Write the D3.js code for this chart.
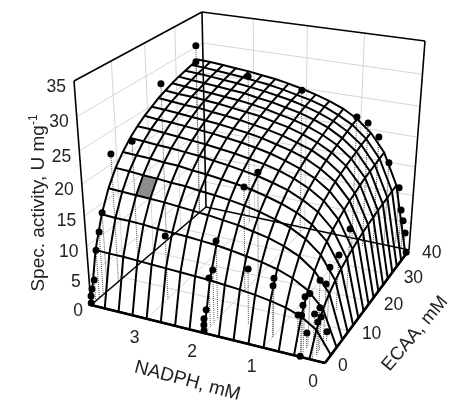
<!DOCTYPE html><html><head><meta charset="utf-8"><script src="https://cdn.jsdelivr.net/npm/d3@7"></script></head><body style="margin:0;background:#fff"><svg id="s" width="452" height="405" style="display:block;filter:blur(.35px)"></svg><script>
const nadphData=[3,2,1,.8,.6,.4,.3,.2,.15,.1,.02,4,4,4,4,4,4,4,4,4,4,4,4,2,2,2,2,2,2,2,2,2,3,1.5,1,1,.6,.4,.4,.4,.4,.4,.4,.4,.4,.4,.4,.2,.2,.2,.2,.2,.2];
const ecaaData=[37.7,37.9,37.8,37.8,37.8,37.8,41.4,40.1,40.1,40.2,39,.1,.2,.6,1.4,2.5,3.7,4.9,8.4,14.8,24.7,37.3,37.4,4.7,3.4,2.1,.9,.1,0,0,14.6,19.8,6.9,5.3,3.6,3.3,3.6,0,2.4,0,.4,1.1,3,7,11,14.8,19.4,5.6,1.5,2.7,0,2.1,4.2];
const activityData=[26.4,25.4,22.5,21.8,19.8,15.8,10.3,7,5.1,2.9,0,.3,1.5,2.5,3.7,8.3,10.8,13.5,21.6,21.4,27.5,27.6,30.2,13,8.9,8.2,3.5,2.4,1.4,.4,17.6,18,10.8,9.3,9.7,8.6,4.6,.1,2.7,6.9,8.3,9.3,8.9,9.1,9.3,9.6,11.9,1.7,5.5,5.7,7.6,7.5,10.3];
const meshNadph=[0,.25,.5,.75,1,1.25,1.5,1.75,2,2.25,2.5,2.75,3,3.25,3.5,3.75,4];
const meshEcaa=[0,2.375,4.75,7.125,9.5,11.875,14.25,16.625,19,21.375,23.75,26.125,28.5,30.875,33.25,35.625,38];
const meshZ=[
[0,0,0,0,0,0,0,0,0,0,0,0,0,0,0,0,0],
[0,3.6,5.8,7.2,8.2,9,9.6,10.1,10.5,10.8,11.1,11.3,11.5,11.7,11.8,12,12.1],
[0,5.2,8.3,10.3,11.8,12.9,13.8,14.4,15,15.5,15.8,16.2,16.5,16.7,16.9,17.1,17.3],
[0,6.1,9.7,12.1,13.8,15.1,16.1,16.9,17.5,18.1,18.5,18.9,19.2,19.5,19.8,20,20.2],
[0,6.6,10.6,13.2,15.1,16.5,17.5,18.4,19.1,19.7,20.2,20.6,21,21.3,21.6,21.9,22.1],
[0,7,11.2,14,15.9,17.4,18.6,19.5,20.2,20.9,21.4,21.8,22.2,22.6,22.9,23.1,23.4],
[0,7.3,11.6,14.5,16.6,18.1,19.3,20.3,21,21.7,22.2,22.7,23.1,23.5,23.8,24.1,24.3],
[0,7.5,12,15,17.1,18.7,19.9,20.9,21.7,22.3,22.9,23.4,23.8,24.2,24.5,24.8,25],
[0,7.7,12.3,15.3,17.5,19.1,20.3,21.3,22.2,22.9,23.4,23.9,24.3,24.7,25.1,25.3,25.6],
[0,7.8,12.5,15.6,17.8,19.4,20.7,21.7,22.6,23.3,23.8,24.4,24.8,25.2,25.5,25.8,26.1],
[0,7.9,12.7,15.8,18,19.7,21,22,22.9,23.6,24.2,24.7,25.2,25.5,25.9,26.2,26.5],
[0,8,12.8,16,18.3,19.9,21.3,22.3,23.2,23.9,24.5,25,25.5,25.9,26.2,26.5,26.8],
[0,8.1,12.9,16.2,18.4,20.2,21.5,22.5,23.4,24.1,24.7,25.3,25.7,26.1,26.5,26.8,27.1],
[0,8.2,13.1,16.3,18.6,20.3,21.7,22.7,23.6,24.3,25,25.5,25.9,26.3,26.7,27,27.3],
[0,8.3,13.2,16.4,18.7,20.5,21.8,22.9,23.8,24.5,25.1,25.7,26.1,26.5,26.9,27.2,27.5],
[0,8.3,13.2,16.5,18.9,20.6,22,23.1,23.9,24.7,25.3,25.8,26.3,26.7,27.1,27.4,27.7],
[0,8.4,13.3,16.6,19,20.7,22.1,23.2,24.1,24.8,25.5,26,26.5,26.9,27.2,27.5,27.8]];
const zTicks=[0,5,10,15,20,25,30,35],nTicks=[0,1,2,3],eTicks=[0,10,20,30,40];
const q0=[[325,363],[91,305],[409,250],[206,207]],q1=[[338,128],[74,81],[425,41],[202,12]];
function hom([A,B,C,D]){const dx1=B[0]-D[0],dx2=C[0]-D[0],sx=A[0]-B[0]+D[0]-C[0],dy1=B[1]-D[1],dy2=C[1]-D[1],sy=A[1]-B[1]+D[1]-C[1],den=dx1*dy2-dx2*dy1,g=(sx*dy2-dx2*sy)/den,h=(dx1*sy-sx*dy1)/den,a=B[0]-A[0]+g*B[0],b=C[0]-A[0]+h*C[0],d=B[1]-A[1]+g*B[1],e=C[1]-A[1]+h*C[1];return (u,v)=>{const W=g*u+h*v+1;return[(a*u+b*v+A[0])/W,(d*u+e*v+A[1])/W]}}
const H0=hom(q0),H1=hom(q1);
const xS=d3.scaleLinear([0,4],[0,1]),yS=d3.scaleLinear([0,40],[0,1]),zS=d3.scaleLinear([0,35],[0,1]);
function P(n,e,z){const a=H0(xS(n),yS(e)),b=H1(xS(n),yS(e)),w=zS(z),t=w*.88/(1-.12*w);return [a[0]+(b[0]-a[0])*t,a[1]+(b[1]-a[1])*t]}
const svg=d3.select("#s"),line=d3.line();
const path=(g,pts,col,w,dash)=>g.append("path").attr("d",line(pts)).attr("fill","none").attr("stroke",col).attr("stroke-width",w).attr("stroke-dasharray",dash||null);
const root=svg.append("g");
const grid=root.append("g"),GC="#d6d6d6";
[5,10,15,20,25,30].forEach(z=>{path(grid,[P(4,0,z),P(4,40,z)],GC,1);path(grid,[P(4,40,z),P(0,40,z)],GC,1)});
[10,20,30].forEach(e=>{path(grid,[P(4,e,0),P(4,e,35)],GC,1);path(grid,[P(0,e,0),P(4,e,0)],GC,1)});
[1,2,3].forEach(n=>{path(grid,[P(n,40,0),P(n,40,35)],GC,1);path(grid,[P(n,0,0),P(n,40,0)],GC,1)});
const fr=root.append("g");
[[[4,0,0],[4,0,35]],[[4,40,0],[4,40,35]],[[0,40,0],[0,40,35]],[[4,0,35],[4,40,35]],[[4,40,35],[0,40,35]],[[4,0,0],[4,40,0]],[[4,40,0],[0,40,0]]].forEach(([a,b])=>path(fr,[P(...a),P(...b)],"#000",1.6));
path(fr,[P(0,0,0),P(4,0,0)],"#000",2.6);path(fr,[P(0,0,0),P(0,38,0)],"#000",2.6);
const dr=root.append("g");
nadphData.forEach((n,i)=>path(dr,[P(n,ecaaData[i],activityData[i]),P(n,ecaaData[i],0)],"#555",1,"1 1"));
const gi=13,gj=3;
root.append("path").attr("fill","#8c8c8c").attr("d",line([P(meshNadph[gi],meshEcaa[gj],meshZ[gi][gj]),P(meshNadph[gi+1],meshEcaa[gj],meshZ[gi+1][gj]),P(meshNadph[gi+1],meshEcaa[gj+1],meshZ[gi+1][gj+1]),P(meshNadph[gi],meshEcaa[gj+1],meshZ[gi][gj+1])])+"Z");
const me=root.append("g");
meshNadph.forEach((n,i)=>path(me,meshEcaa.map((e,j)=>P(n,e,meshZ[i][j])),"#000",2));
meshEcaa.forEach((e,j)=>path(me,meshNadph.map((n,i)=>P(n,e,meshZ[i][j])),"#000",2));
root.append("g").selectAll("circle").data(nadphData).join("circle").attr("cx",(n,i)=>P(n,ecaaData[i],activityData[i])[0]).attr("cy",(n,i)=>P(n,ecaaData[i],activityData[i])[1]).attr("r",3.5).attr("fill","#000");
const T=(x,y,s,anc,rot,fs)=>svg.append("text").attr("transform",`translate(${x},${y})`+(rot?` rotate(${rot})`:"")).attr("text-anchor",anc||"middle").attr("font-family","Liberation Sans").attr("font-size",fs||17.5).attr("fill","#222").text(s);
zTicks.forEach(z=>{const p=P(4,0,z);T(p[0]-8,p[1]+10.5,z,"end")});
nTicks.forEach(n=>{const p=P(n,0,0);T(p[0]-12,p[1]+24,n)});
eTicks.forEach(e=>{const p=P(0,e,0);T(p[0]+13,p[1]+8,e,"start")});
T(186,386,"NADPH, mM","middle",15,19);T(419,337,"ECAA, mM","middle",-50,18.5);
const yl=T(44,203,"Spec. activity, U mg","middle",-90,19);yl.append("tspan").attr("dy",-7).attr("font-size",12).text("-1");
</script></body></html>
